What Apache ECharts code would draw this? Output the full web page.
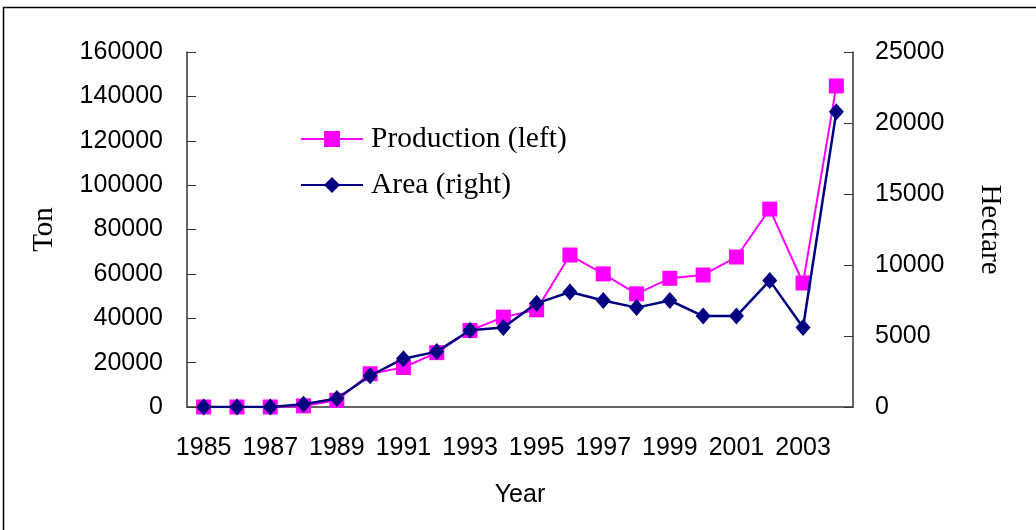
<!DOCTYPE html>
<html>
<head>
<meta charset="utf-8">
<script src="https://cdn.jsdelivr.net/npm/echarts@6/dist/echarts.min.js"></script>
<style>
html,body{margin:0;padding:0;background:#fff;}
#chart{width:1036px;height:530px;}
</style>
</head>
<body>
<div id="chart"></div>
<script>
const years = ['1985','1986','1987','1988','1989','1990','1991','1992','1993','1994','1995','1996','1997','1998','1999','2000','2001','2002','2003','2004'];
const production = [0,0,0,500,3000,15000,17800,24500,34500,40500,43800,68500,60000,51000,58000,59500,67600,89200,55900,144700];
const area = [0,0,0,200,600,2200,3400,3900,5400,5600,7300,8100,7500,7000,7500,6400,6400,8900,5600,20800];

const chart = echarts.init(document.getElementById('chart'), null, {renderer:'canvas'});
const sans = 'Liberation Sans, Arial, sans-serif';
const serif = 'Liberation Serif, Times New Roman, serif';
const plain = v => String(v);
chart.setOption({
  animation:false,
  backgroundColor:'#fff',
  graphic:[{type:'rect',shape:{x:3.5,y:7.5,width:1200,height:700},style:{fill:'none',stroke:'#000',lineWidth:1.5},silent:true}],
  grid:{left:187,right:183,top:52,bottom:123,containLabel:false},
  legend:{
    orient:'vertical',left:295,top:119,itemWidth:62,itemHeight:20,itemGap:16,
    textStyle:{fontFamily:serif,fontSize:29.5,color:'#000',padding:[0,0,0,3]},
    data:['Production (left)','Area (right)']
  },
  xAxis:{
    type:'category',data:years,boundaryGap:true,
    name:'Year',nameLocation:'middle',nameGap:76,
    nameTextStyle:{fontFamily:sans,fontSize:25,color:'#000'},
    axisLine:{lineStyle:{color:'#333',width:1.5}},
    axisTick:{inside:true,length:9,interval:0,lineStyle:{color:'#333'}},
    axisLabel:{interval:1,margin:29,fontFamily:sans,fontSize:25,color:'#000'}
  },
  yAxis:[{
    type:'value',min:0,max:160000,interval:20000,position:'left',
    name:'Ton',nameLocation:'middle',nameGap:128,nameRotate:90,
    nameTextStyle:{fontFamily:serif,fontSize:29,color:'#000'},
    axisLine:{show:true,lineStyle:{color:'#333',width:1.5}},
    axisTick:{show:true,inside:true,length:9,lineStyle:{color:'#333'}},
    axisLabel:{margin:24,fontFamily:sans,fontSize:25,color:'#000',formatter:plain},
    splitLine:{show:false}
  },{
    type:'value',min:0,max:25000,interval:5000,position:'right',
    name:'Hectare',nameLocation:'middle',nameGap:122,nameRotate:-90,
    nameTextStyle:{fontFamily:serif,fontSize:29,color:'#000'},
    axisLine:{show:true,lineStyle:{color:'#333',width:1.5}},
    axisTick:{show:true,inside:true,length:9,lineStyle:{color:'#333'}},
    axisLabel:{margin:22,fontFamily:sans,fontSize:25,color:'#000',formatter:plain},
    splitLine:{show:false}
  }],
  series:[{
    name:'Production (left)',type:'line',yAxisIndex:0,data:production,
    symbol:'rect',symbolSize:15,
    lineStyle:{color:'#FF00FF',width:2},itemStyle:{color:'#FF00FF'},z:2
  },{
    name:'Area (right)',type:'line',yAxisIndex:1,data:area,
    symbol:'diamond',symbolSize:[15,17],
    lineStyle:{color:'#000080',width:2.5},itemStyle:{color:'#000080'},z:3
  }]
});
</script>
</body>
</html>
